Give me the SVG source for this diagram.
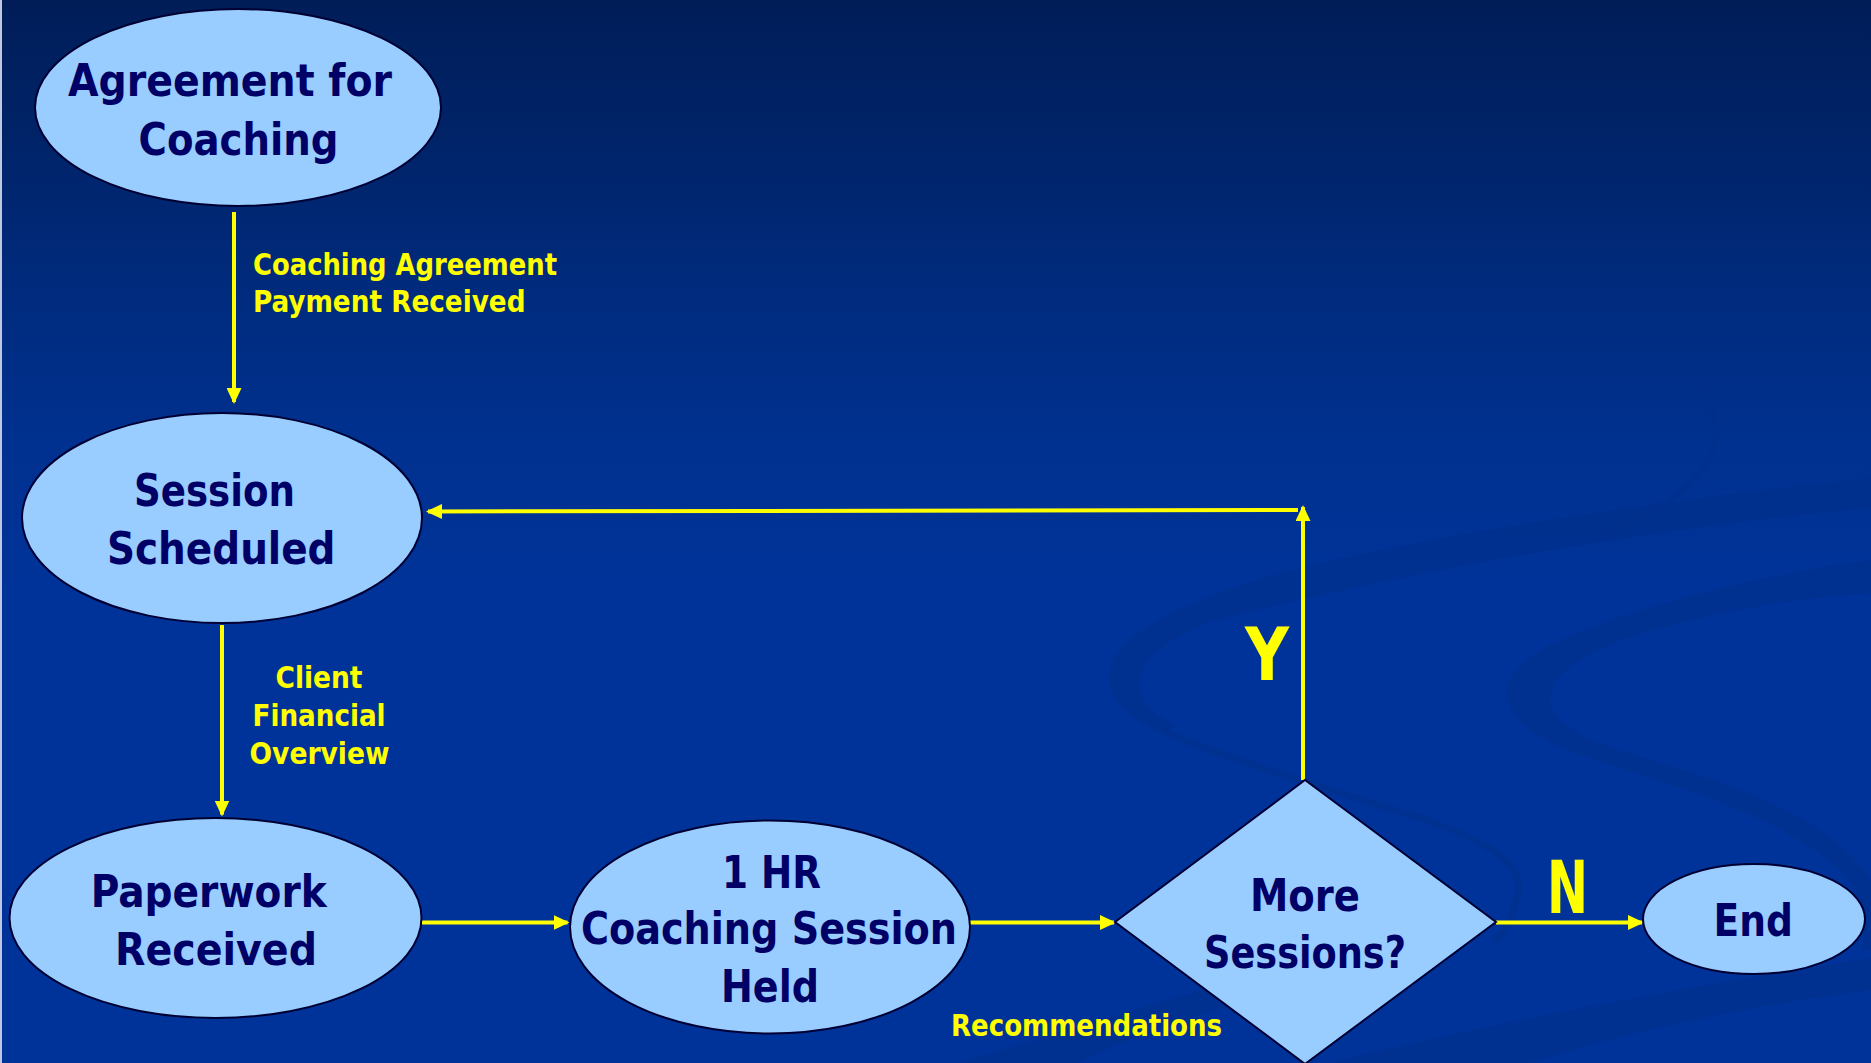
<svg xmlns="http://www.w3.org/2000/svg" width="1871" height="1063" viewBox="0 0 1871 1063">
  <defs>
    <linearGradient id="bg" x1="0" y1="0" x2="0" y2="1063" gradientUnits="userSpaceOnUse">
      <stop offset="0" stop-color="#001D58"/>
      <stop offset="0.12" stop-color="#002367"/>
      <stop offset="0.28" stop-color="#002B7E"/>
      <stop offset="0.42" stop-color="#003190"/>
      <stop offset="0.55" stop-color="#003399"/>
      <stop offset="1" stop-color="#003399"/>
    </linearGradient>
    <marker id="arr" viewBox="0 0 16 15" markerWidth="16" markerHeight="15" refX="14" refY="7.5" orient="auto" markerUnits="userSpaceOnUse">
      <path d="M0,0 L16,7.5 L0,15 Z" fill="#FFFF00"/>
    </marker>
    <style>
      .shape { fill: #99CCFF; stroke: #000033; stroke-width: 2; }
      .ntext { font-family: 'DejaVu Sans Condensed', 'DejaVu Sans', sans-serif; font-stretch: condensed; font-weight: bold; font-size: 45px; fill: #000066; }
      .ltext { font-family: 'DejaVu Sans Condensed', 'DejaVu Sans', sans-serif; font-stretch: condensed; font-weight: bold; font-size: 30px; fill: #FFFF00; }
      .big { font-size: 73px; }
      .conn { stroke: #FFFF00; stroke-width: 4; fill: none; marker-end: url(#arr); }
      .swirl { fill: #002E8A; opacity: 0.6; }
      .swline { fill: none; stroke: #002E8A; opacity: 0.6; }
    </style>
  </defs>

  <!-- background -->
  <rect x="0" y="0" width="1871" height="1063" fill="url(#bg)"/>
  <rect x="0" y="0" width="2" height="1063" fill="#BFC8E0"/>

  <g id="background-swirls">
    <path class="swirl" d="M1871,478 C1700,495 1420,535 1282,573 C1200,596 1130,625 1112,662 C1100,690 1120,715 1165,735 L1175,725 C1140,708 1132,686 1146,664 C1168,636 1205,622 1240,614 C1380,580 1620,530 1871,508 Z"/>
    <path class="swline" stroke-width="7" d="M1165,732 C1230,760 1330,790 1420,818 C1490,842 1525,865 1518,895 C1514,915 1505,930 1495,942"/>
    <path class="swirl" d="M1871,560 C1760,575 1640,605 1560,640 C1510,662 1498,690 1512,712 C1530,738 1570,752 1610,765 C1700,792 1790,825 1840,870 C1862,892 1868,920 1862,950 L1871,950 L1871,880 C1840,830 1760,790 1650,760 C1590,742 1552,725 1550,700 C1549,672 1590,650 1640,634 C1720,610 1800,598 1871,593 Z"/>
    <path class="swirl" d="M1330,1063 C1500,1020 1700,985 1871,958 L1871,990 C1720,1010 1620,1035 1530,1063 Z"/>
    <path class="swirl" d="M960,1063 C1050,1035 1130,1010 1210,988 L1250,1000 C1180,1020 1110,1045 1080,1063 Z"/>
    <path class="swline" stroke-width="5" d="M1693,373 C1712,395 1718,425 1712,450 C1700,490 1650,515 1600,533"/>
  </g>

  <g id="connectors">
    <line class="conn" x1="234" y1="212" x2="234" y2="402"/>
    <line class="conn" x1="222" y1="625" x2="222" y2="814.5"/>
    <line class="conn" x1="422" y1="922.5" x2="567.5" y2="922.5"/>
    <line class="conn" x1="969.6" y1="922.5" x2="1114" y2="922.5"/>
    <line class="conn" x1="1303" y1="780" x2="1303" y2="507"/>
    <line class="conn" x1="1298" y1="510" x2="428" y2="511.5"/>
    <line class="conn" x1="1496" y1="922.5" x2="1642" y2="922.5"/>
  </g>

  <g id="labels">
    <text class="ltext" x="253" y="275" textLength="304" lengthAdjust="spacingAndGlyphs">Coaching Agreement</text>
    <text class="ltext" x="253" y="312" textLength="272.5" lengthAdjust="spacingAndGlyphs">Payment Received</text>
    <text class="ltext" x="275.5" y="687.5" textLength="87" lengthAdjust="spacingAndGlyphs">Client</text>
    <text class="ltext" x="252.6" y="726.4" textLength="133" lengthAdjust="spacingAndGlyphs">Financial</text>
    <text class="ltext" x="249.5" y="763.6" textLength="140" lengthAdjust="spacingAndGlyphs">Overview</text>
    <text class="ltext" x="951" y="1036" textLength="271" lengthAdjust="spacingAndGlyphs">Recommendations</text>
    <text class="ltext big" x="1245" y="680" textLength="44" lengthAdjust="spacingAndGlyphs">Y</text>
    <text class="ltext big" x="1547" y="913" textLength="41" lengthAdjust="spacingAndGlyphs">N</text>
  </g>

  <g id="node-agreement">
    <ellipse class="shape" cx="238" cy="107.5" rx="203" ry="98.5"/>
    <text class="ntext" x="68" y="96" textLength="324" lengthAdjust="spacingAndGlyphs">Agreement for</text>
    <text class="ntext" x="138.5" y="155" textLength="200" lengthAdjust="spacingAndGlyphs">Coaching</text>
  </g>

  <g id="node-session-scheduled">
    <ellipse class="shape" cx="222" cy="518" rx="200" ry="105"/>
    <text class="ntext" x="134" y="506" textLength="161" lengthAdjust="spacingAndGlyphs">Session</text>
    <text class="ntext" x="107" y="564" textLength="228.5" lengthAdjust="spacingAndGlyphs">Scheduled</text>
  </g>

  <g id="node-paperwork">
    <ellipse class="shape" cx="215.5" cy="918" rx="206" ry="100"/>
    <text class="ntext" x="90.7" y="906.5" textLength="236" lengthAdjust="spacingAndGlyphs">Paperwork</text>
    <text class="ntext" x="115" y="964.5" textLength="202" lengthAdjust="spacingAndGlyphs">Received</text>
  </g>

  <g id="node-session-held">
    <ellipse class="shape" cx="770" cy="927" rx="200" ry="106.5"/>
    <text class="ntext" x="722" y="888" textLength="99" lengthAdjust="spacingAndGlyphs">1 HR</text>
    <text class="ntext" x="581" y="944" textLength="376" lengthAdjust="spacingAndGlyphs">Coaching Session</text>
    <text class="ntext" x="721" y="1001.7" textLength="98" lengthAdjust="spacingAndGlyphs">Held</text>
  </g>

  <g id="node-more-sessions">
    <polygon class="shape" points="1115,922 1305,780 1496,922 1305,1064"/>
    <text class="ntext" x="1250" y="911" textLength="110" lengthAdjust="spacingAndGlyphs">More</text>
    <text class="ntext" x="1204" y="968" textLength="202" lengthAdjust="spacingAndGlyphs">Sessions?</text>
  </g>

  <g id="node-end">
    <ellipse class="shape" cx="1754" cy="919" rx="111" ry="55"/>
    <text class="ntext" x="1713.6" y="936" textLength="79.4" lengthAdjust="spacingAndGlyphs">End</text>
  </g>
</svg>
